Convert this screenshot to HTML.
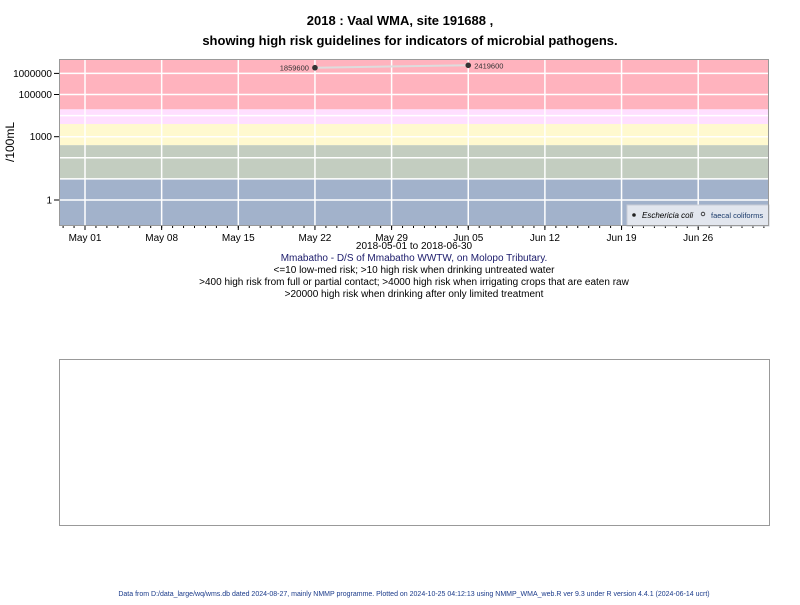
<!DOCTYPE html>
<html><head><meta charset="utf-8"><style>
body{margin:0;background:#fff;font-family:"Liberation Sans",sans-serif;}
svg text{font-family:"Liberation Sans",sans-serif;}
</style></head><body>
<svg width="800" height="600" viewBox="0 0 800 600">
<text x="400" y="25" text-anchor="middle" font-size="13" font-weight="bold">2018 : Vaal WMA, site 191688 ,</text>
<text x="410" y="45" text-anchor="middle" font-size="13" font-weight="bold">showing high risk guidelines for indicators of microbial pathogens.</text>
<g id="plot"></g>
<text x="14" y="142" transform="rotate(-90 14 142)" text-anchor="middle" font-size="12">/100mL</text>
<g font-size="10" text-anchor="middle">
<text x="414" y="249">2018-05-01 to 2018-06-30</text>
<text x="414" y="261" fill="#1a1a6a">Mmabatho - D/S of Mmabatho WWTW, on Molopo Tributary.</text>
<text x="414" y="273">&lt;=10 low-med risk; &gt;10 high risk when drinking untreated water</text>
<text x="414" y="285">&gt;400 high risk from full or partial contact; &gt;4000 high risk when irrigating crops that are eaten raw</text>
<text x="414" y="297">&gt;20000 high risk when drinking after only limited treatment</text>
</g>
<rect x="59.5" y="359.5" width="710" height="166" fill="none" stroke="#999"/>
<text x="414" y="596" text-anchor="middle" font-size="7" fill="#1a3a8a">Data from D:/data_large/wq/wms.db dated 2024-08-27, mainly NMMP programme. Plotted on 2024-10-25 04:12:13 using NMMP_WMA_web.R ver 9.3 under R version 4.4.1 (2024-06-14 ucrt)</text>
</svg>
<script>
const dates = ["2018-05-22","2018-06-05"];
const ecoli = [1859600, 2419600];
const pointLabels = ["1859600","2419600"];
const yTicks = [1,1000,100000,1000000];
const yTickLabels = ["1","1000","100000","1000000"];
const yGrid = [1,10,100,1000,10000,100000,1000000];
const xTicks = ["2018-05-01","2018-05-08","2018-05-15","2018-05-22","2018-05-29","2018-06-05","2018-06-12","2018-06-19","2018-06-26"];
const xTickLabels = ["May 01","May 08","May 15","May 22","May 29","Jun 05","Jun 12","Jun 19","Jun 26"];
const bandLimits = [10,400,4000,20000];

const L=59,R=769,T=59,B=226;
const day0=Date.UTC(2018,4,1);
function xs(d){const t=(Date.parse(d+"T00:00:00Z")-day0)/86400000;return 85+t*10.95;}
function ys(v){return 200-Math.log10(v)*21.1;}
const NS="http://www.w3.org/2000/svg";
const g=document.getElementById('plot');
function mk(tag,attrs,parent){const e=document.createElementNS(NS,tag);for(const k in attrs)e.setAttribute(k,attrs[k]);(parent||g).appendChild(e);return e;}
// bands
const bandCols=["#a2b2cb","#c3cdc0","#fff9cf","#ffdfff","#ffb3be"];
const edges=[B,ys(bandLimits[0]),ys(bandLimits[1]),ys(bandLimits[2]),ys(bandLimits[3]),T];
for(let i=0;i<5;i++){
 const r=mk('rect',{x:L,y:edges[i+1],width:R-L,height:edges[i]-edges[i+1],fill:bandCols[i]});
 
 
}
// grid
yGrid.forEach(v=>{const l=mk('line',{x1:L,x2:R,y1:ys(v),y2:ys(v),stroke:"#fff","stroke-width":1.5});
 
 });
xTicks.forEach((d,i)=>{const x=xs(d);
 const l=mk('line',{x1:x,x2:x,y1:T,y2:B,stroke:"#fff","stroke-width":1.5});
 
 
 const tk=mk('line',{x1:x,x2:x,y1:B,y2:B+4,stroke:"#000"});
 
 
 const t=mk('text',{x:x,y:B+15,"text-anchor":"middle","font-size":10});t.textContent=xTickLabels[i];
 
 });
for(let dd=-2;dd<=62;dd++){const x=85+dd*10.95;if(x<L||x>R)continue;
 const tk=mk('line',{x1:x,x2:x,y1:B,y2:B+2,stroke:"#000"});
 
 }
yTicks.forEach((v,i)=>{const y=ys(v);
 const tk=mk('line',{x1:L-5,x2:L,y1:y,y2:y,stroke:"#000"});
 
 
 const t=mk('text',{x:L-7,y:y+3.5,"text-anchor":"end","font-size":10});t.textContent=yTickLabels[i];
 
 });
// series
const pts=dates.map((d,i)=>[xs(d),ys(ecoli[i])]);
const pl=mk('polyline',{points:pts.map(p=>p.join(',')).join(' '),fill:"none",stroke:"#ddd","stroke-width":2});


pts.forEach((p,i)=>{const c=mk('circle',{cx:p[0],cy:p[1],r:2.8,fill:"#333"});
 
 
 const t=mk('text',{x:i==0?p[0]-6:p[0]+6,y:p[1]+3,"text-anchor":i==0?"end":"start","font-size":7.5,fill:"#333"});t.textContent=pointLabels[i];
 
 });
// legend
const lg=mk('g',{});


mk('rect',{x:627,y:205,width:142,height:21,fill:"#e2e6ee",stroke:"#c8ccd6"},lg);
mk('circle',{cx:634,cy:215,r:1.8,fill:"#222"},lg);
const t1=mk('text',{x:642,y:218,"font-size":8,"font-style":"italic"},lg);t1.textContent="Eschericia coli";


mk('circle',{cx:703,cy:214,r:1.8,fill:"none",stroke:"#222","stroke-width":0.8},lg);
const t2=mk('text',{x:711,y:218,"font-size":7.5,fill:"#1a3a6a"},lg);t2.textContent="faecal coliforms";


mk('rect',{x:L+0.5,y:T+0.5,width:R-L-1,height:B-T-1,fill:"none",stroke:"#999"});
</script>
</body></html>
